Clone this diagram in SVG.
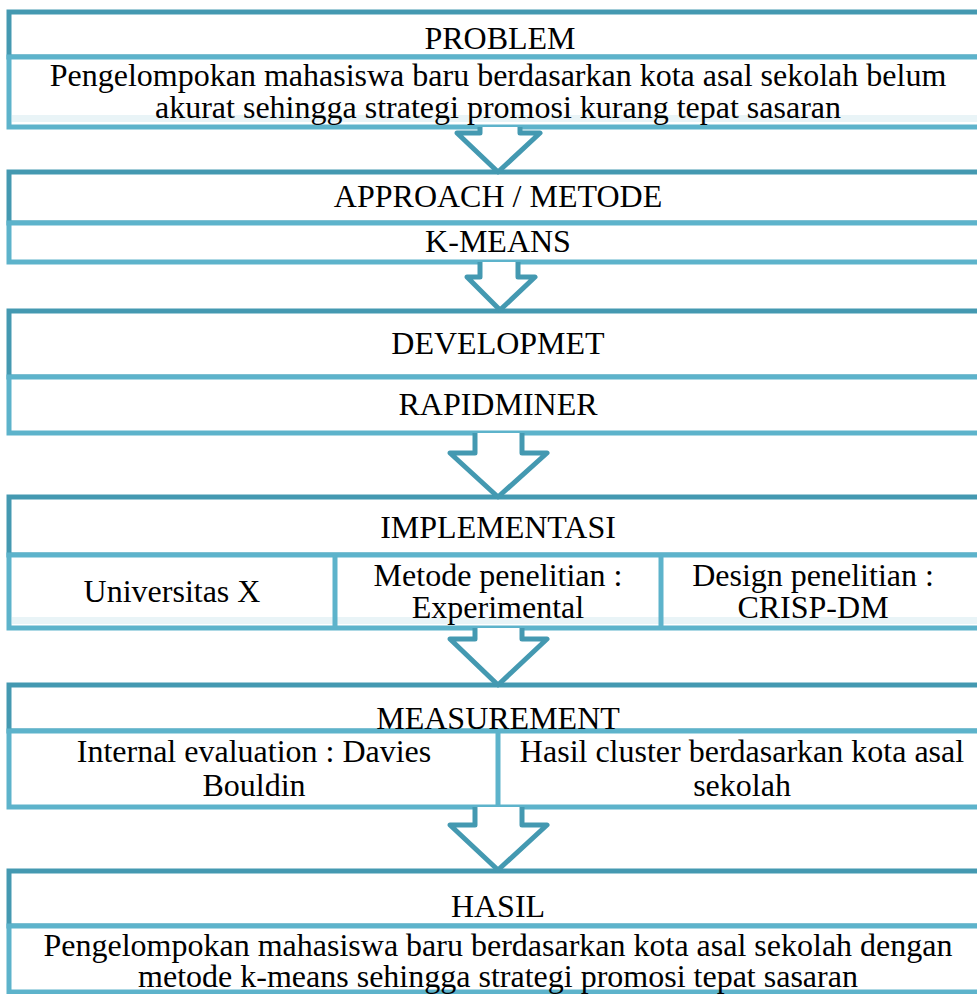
<svg xmlns="http://www.w3.org/2000/svg" width="977" height="994" viewBox="0 0 977 994">
<style>
.hd{fill:#fff;stroke:#4499b1;stroke-width:5}
.bd{fill:#fff;stroke:#5db3cb;stroke-width:5}
.vl{stroke:#5db3cb;stroke-width:5;fill:none}
.band{fill:#e9f4f7}
.ar{fill:#fff;stroke:#4499b1;stroke-width:5;stroke-linejoin:round}
text{font-family:"Liberation Serif","Times New Roman",serif;font-size:32px;fill:#000;text-anchor:middle}
</style>
<rect width="977" height="994" fill="#fff"/>
<g id="problem">
<rect class="hd" x="9" y="12" width="980" height="45"/>
<rect class="bd" x="9" y="57" width="980" height="70"/>
<rect class="band" x="12" y="115" width="974" height="7"/>
<text x="500" y="49">PROBLEM</text>
<text x="498" y="86">Pengelompokan mahasiswa baru berdasarkan kota asal sekolah belum</text>
<text x="498" y="118">akurat sehingga  strategi promosi kurang tepat sasaran</text>
</g>
<g id="approach">
<rect class="hd" x="9" y="172" width="980" height="51"/>
<rect class="bd" x="9" y="223" width="980" height="39"/>
<text x="498" y="207">APPROACH / METODE</text>
<text x="498" y="252">K-MEANS</text>
</g>
<g id="development">
<rect class="hd" x="9" y="311" width="980" height="66"/>
<rect class="bd" x="9" y="377" width="980" height="56"/>
<text x="498" y="354">DEVELOPMET</text>
<text x="498" y="415">RAPIDMINER</text>
</g>
<g id="implementasi">
<rect class="hd" x="9" y="497" width="980" height="58"/>
<rect class="bd" x="9" y="555" width="980" height="73"/>
<rect class="band" x="12" y="617" width="974" height="7"/>
<line class="vl" x1="335" y1="555" x2="335" y2="628"/>
<line class="vl" x1="661" y1="555" x2="661" y2="628"/>
<text x="498" y="538">IMPLEMENTASI</text>
<text x="172" y="602">Universitas X</text>
<text x="498" y="586">Metode penelitian  :</text>
<text x="498" y="618">Experimental</text>
<text x="813" y="586">Design penelitian  :</text>
<text x="813" y="618">CRISP-DM</text>
</g>
<g id="measurement">
<rect class="hd" x="9" y="685" width="980" height="46"/>
<rect class="bd" x="9" y="731" width="980" height="76"/>
<line class="vl" x1="498" y1="731" x2="498" y2="807"/>
<text x="498" y="729">MEASUREMENT</text>
<text x="254" y="762">Internal evaluation : Davies</text>
<text x="254" y="796">Bouldin</text>
<text x="742" y="762">Hasil cluster berdasarkan kota asal</text>
<text x="742" y="796">sekolah</text>
</g>
<g id="hasil">
<rect class="hd" x="9" y="871" width="980" height="55"/>
<rect class="bd" x="9" y="926" width="980" height="66"/>
<text x="498" y="917">HASIL</text>
<text x="498" y="956">Pengelompokan mahasiswa baru berdasarkan kota asal sekolah dengan</text>
<text x="498" y="987">metode k-means sehingga  strategi promosi tepat sasaran</text>
</g>
<g id="connectors">
<path class="ar" d="M480,127 V133 H457 L498,172 L540,133 H520 V127"/>
<path class="ar" d="M480,262 V277 H467 L500,310 L535,277 H518 V262"/>
<path class="ar" d="M475,433 V453 H450 L498,497 L547,453 H522 V433"/>
<path class="ar" d="M475,628 V639 H450 L498,685 L547,639 H522 V628"/>
<path class="ar" d="M475,807 V825 H450 L498,870 L547,825 H522 V807"/>
</g>
</svg>
